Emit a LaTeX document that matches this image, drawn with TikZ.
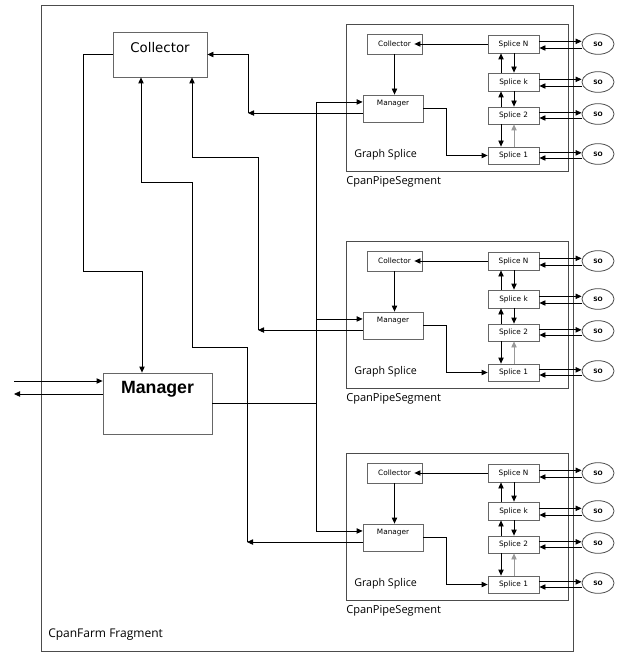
\documentclass[tikz,border=0pt]{standalone}
\usepackage{fontspec}
\setmainfont{DejaVu Sans}
\newfontfamily\opensans{Open Sans}
\newfontfamily\arialf{Liberation Sans}
\usetikzlibrary{arrows.meta,fit,shapes.geometric}
\begin{document}
\begin{tikzpicture}[x=0.75pt,y=-0.75pt,
  box/.style={draw=black!60, line width=0.6pt, inner sep=0pt, fill=white},
  frame/.style={draw=black!70, line width=0.6pt, inner sep=0pt},
  arr/.style={-{Triangle[length=4.5pt,width=4pt]}, line width=0.6pt},
  ln/.style={line width=0.6pt},
  tiny/.style={font=\fontsize{5.5}{6}\selectfont, inner sep=0pt},
  so/.style={draw=black!70, line width=0.6pt, ellipse, minimum width=24pt, minimum height=15.5pt, inner sep=0pt, font=\bfseries\fontsize{4.5}{5}\selectfont},
]
\useasboundingbox (0,0) rectangle (620,652);
\node[frame, fit={(41,5) (573,651)}] (farm) {};
\node[anchor=west, inner sep=0pt, font=\opensans\fontsize{9}{10}\selectfont] (farmlbl) at (48,635) {CpanFarm Fragment};

\node[box, fit={(113,32) (207,77)}] (C) {};
\node[font=\fontsize{10}{12}\selectfont] (Clbl) at (160,48) {Collector};
\node[box, fit={(103,373) (212,434)}] (M) {};
\node[font=\arialf\bfseries\fontsize{13.3}{15}\selectfont] (Mlbl) at (157.5,389) {Manager};

\coordinate (xl) at (501,0);
\coordinate (xr) at (514,0);
\coordinate (bus) at (316,0);

\foreach \dy/\s in {0/a,217/b,429/c}{
\begin{scope}[yshift={-\dy*0.75pt}]
  \node[frame, fit={(346,24) (568,171)}] (seg\s) {};
  \node[anchor=west, inner sep=0pt, font=\opensans\fontsize{8}{9}\selectfont] (gs\s) at (354,155) {Graph Splice};
  \node[anchor=west, inner sep=0pt, font=\opensans\fontsize{8.3}{9}\selectfont] (cps\s) at (346,182) {CpanPipeSegment};
  \node[box, fit={(367,34) (422,54)}, label={[tiny]center:Collector}] (col\s) {};
  \node[box, fit={(363,95) (423,122)}] (man\s) {};
  \node[tiny] (manl\s) at (393,104) {Manager};
  \node[box, fit={(488,35) (539,53)}, label={[tiny]center:Splice N}] (sn\s) {};
  \node[box, fit={(488,73) (539,91)}, label={[tiny]center:Splice k}] (sk\s) {};
  \node[box, fit={(488,107) (539,124)}, label={[tiny]center:Splice 2}] (s2\s) {};
  \node[box, fit={(488,147) (539,164)}, label={[tiny]center:Splice 1}] (s1\s) {};
  \node[so] (on\s) at (598,44) {SO};
  \node[so] (ok\s) at (598,82) {SO};
  \node[so] (o2\s) at (598,114) {SO};
  \node[so] (o1\s) at (598,154) {SO};
  \draw[arr] (sn\s.west) -- ([xshift=-6pt]col\s.east);
  \draw[arr] (col\s.south) -- (col\s.south |- man\s.north);
  \draw[arr] (man\s.east) -- ++(23,0) |- (s1\s.west);
  \draw[arr] (sk\s.north -| xl) -- (sn\s.south -| xl);
  \draw[arr] (sn\s.south -| xr) -- (sk\s.north -| xr);
  \draw[arr] (s2\s.north -| xl) -- (sk\s.south -| xl);
  \draw[arr] (sk\s.south -| xr) -- (s2\s.north -| xr);
  \draw[arr] (s2\s.south -| xl) -- (s1\s.north -| xl);
  \draw[arr, draw=black!40] (s1\s.north -| xr) -- (s2\s.south -| xr);
  \foreach \S/\O in {sn/on,sk/ok,s2/o2,s1/o1}{
    \coordinate (u\S\s) at ([yshift=2pt]\S\s.east);
    \draw[arr] (u\S\s) -- (u\S\s -| \O\s.west);
    \coordinate (d\S\s) at ([yshift=-3pt]\O\s.west);
    \draw[arr] (d\S\s) -- (d\S\s -| \S\s.east);
  }
  \coordinate (in\s) at ([yshift=4.9pt]man\s.west);
  \draw[arr] (in\s -| bus) -- (in\s);
  \coordinate (o\s) at ([yshift=-3.4pt]man\s.west);
\end{scope}
}

% bus from big manager to segment managers
\draw[ln] (ina -| bus) -- (inc -| bus);
\draw[ln] (M.east) -- (M.east -| bus);

% segment managers back to collector
\coordinate (xa) at (248,0);
\coordinate (ka) at (oa -| xa);
\draw[arr] (oa) -- (ka);
\draw[arr] (ka) |- (C.east);

\coordinate (xb) at (258,0);
\coordinate (kb) at (ob -| xb);
\coordinate (qb) at (192,157);
\draw[arr] (ob) -- (kb);
\draw[arr] (kb) |- (qb) -- (qb |- C.south);

\coordinate (xc) at (247,0);
\coordinate (kc) at (oc -| xc);
\coordinate (qc1) at (192,347);
\coordinate (qc2) at (141,182);
\draw[arr] (oc) -- (kc);
\draw[arr] (kc) |- (qc1) |- (qc2) -- (qc2 |- C.south);

% collector to manager
\coordinate (r1) at (83,271);
\coordinate (r2) at (142,271);
\draw[arr] (C.west) -| (r1) -- (r2) -- (r2 |- M.north);

% external
\coordinate (ein) at (14,381);
\coordinate (eout) at (14,394);
\draw[arr] (ein) -- (ein -| M.west);
\draw[arr] (eout -| M.west) -- (eout);
\end{tikzpicture}
\end{document}
